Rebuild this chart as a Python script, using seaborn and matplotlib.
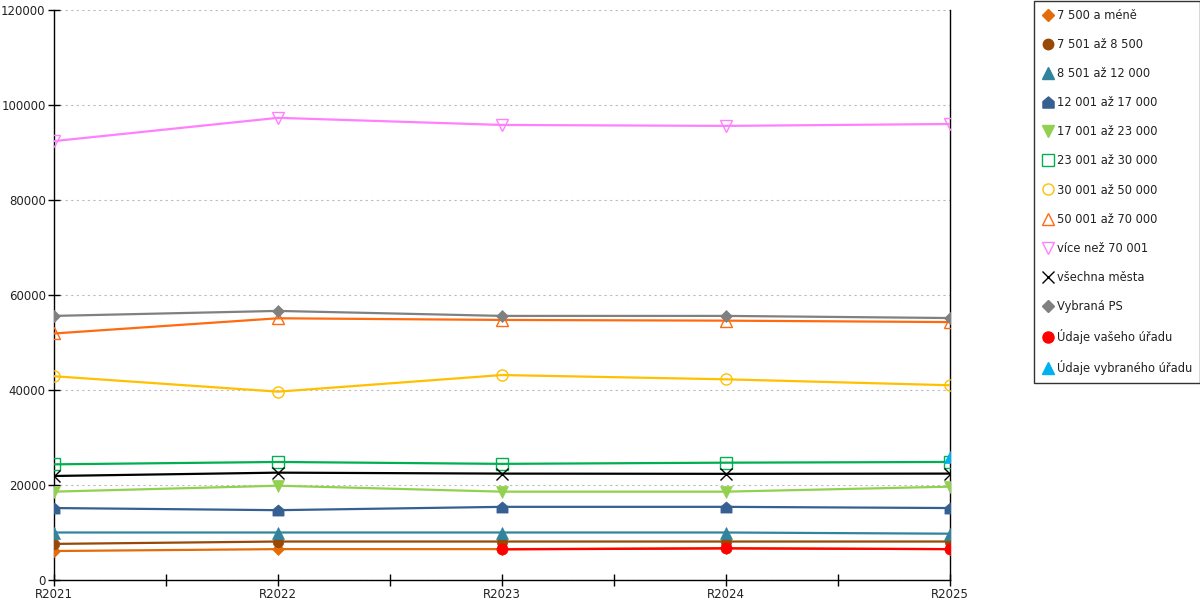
import numpy as np
import pandas as pd
import matplotlib
matplotlib.use("Agg")
import matplotlib.pyplot as plt
from matplotlib.lines import Line2D
from matplotlib.path import Path
import seaborn as sns

sns.set_theme(style="white")
plt.rcParams['font.family'] = ['DejaVu Sans']

years = ["R2021", "R2022", "R2023", "R2024", "R2025"]

s_7500 = [6100, 6500, 6500, 6700, 6500]
s_8500 = [7600, 8100, 8100, 8100, 8100]
s_12000 = [10000, 10000, 10000, 10000, 9750]
s_17000 = [15150, 14700, 15400, 15400, 15150]
s_23000 = [18600, 19850, 18600, 18600, 19650]
s_30000 = [24350, 24850, 24450, 24700, 24850]
s_50000 = [42900, 39650, 43150, 42250, 41000]
s_70000 = [51900, 55100, 54750, 54600, 54300]
s_more = [92400, 97300, 95800, 95600, 96000]
s_all = [21900, 22600, 22400, 22350, 22400]
s_ps = [55600, 56650, 55600, 55600, 55150]
s_vas = [None, None, 6450, 6650, 6500]
s_vyb = [None, None, None, None, 26000]

labels = ["7 500 a méně", "7 501 až 8 500", "8 501 až 12 000", "12 001 až 17 000",
          "17 001 až 23 000", "23 001 až 30 000", "30 001 až 50 000", "50 001 až 70 000",
          "více než 70 001", "všechna města", "Vybraná PS", "Údaje vašeho úřadu",
          "Údaje vybraného úřadu"]
series = [s_7500, s_8500, s_12000, s_17000, s_23000, s_30000, s_50000, s_70000,
          s_more, s_all, s_ps, s_vas, s_vyb]

house = Path([(-1, -1), (1, -1), (1, 0.15), (0, 1), (-1, 0.15), (-1, -1)],
             [Path.MOVETO, Path.LINETO, Path.LINETO, Path.LINETO, Path.LINETO, Path.CLOSEPOLY])

# (color, marker, filled, markersize)
styles = [
    ("#E36C09", "D", True, 6),
    ("#984807", "o", True, 7.5),
    ("#31849B", "^", True, 8),
    ("#376092", house, True, 8),
    ("#92D050", "v", True, 8),
    ("#00B050", "s", False, 8),
    ("#FFC000", "o", False, 8),
    ("#FF6A10", "^", False, 9),
    ("#FF80FF", "v", False, 9),
    ("#000000", "x", False, 9),
    ("#808080", "D", True, 6.5),
    ("#FF0000", "o", True, 8),
    ("#00B0F0", "^", True, 9),
]

fig = plt.figure(figsize=(12, 6), dpi=100)
ax = fig.add_axes([54/1200, 20/600, (950-54)/1200, 570/600])

for lab, vals, (c, m, filled, ms) in zip(labels, series, styles):
    df = pd.DataFrame({"year": years, "value": vals}).dropna()
    sns.lineplot(data=df, x="year", y="value", ax=ax, color=c, linewidth=1.6,
                 marker=m, markersize=ms,
                 markerfacecolor=(c if filled else "none"),
                 markeredgecolor=c, markeredgewidth=(1.0 if not filled else 0.5),
                 sort=False, legend=False, zorder=3)

ax.set_xlim(0, 4)
ax.set_ylim(0, 120000)
ax.set_yticks(np.arange(0, 120001, 20000))
ax.set_xticks(np.arange(0, 4.01, 0.5))
ax.set_xticklabels([years[i // 2] if i % 2 == 0 else "" for i in range(9)])
ax.tick_params(axis="both", direction="inout", length=8, width=1, color="black",
               labelsize=8.5, labelcolor="#222222", pad=2, bottom=True, left=True)
ax.grid(axis="y", linestyle=(0, (2, 3)), color="#BBBBBB", linewidth=0.8)
ax.set_axisbelow(True)
ax.set_xlabel("")
ax.set_ylabel("")
for sp in ["left", "bottom", "right"]:
    ax.spines[sp].set_visible(True)
    ax.spines[sp].set_color("black")
    ax.spines[sp].set_linewidth(1)
ax.spines["top"].set_visible(False)

handles = []
for lab, (c, m, filled, ms) in zip(labels, styles):
    handles.append(Line2D([], [], linestyle="none", marker=m, markersize=ms,
                          markerfacecolor=(c if filled else "none"),
                          markeredgecolor=c, markeredgewidth=1.0))
leg = fig.legend(handles, labels, loc="upper left", bbox_to_anchor=(1034/1200, 0.999),
                 frameon=True, fontsize=8.3, labelspacing=1.4, handlelength=1.0,
                 handletextpad=0.3, borderpad=0.7, borderaxespad=0, fancybox=False)
leg.get_frame().set_edgecolor("black")
leg.get_frame().set_linewidth(1)
for t in leg.get_texts():
    t.set_color("#222222")

fig.savefig("out.png", dpi=100)
